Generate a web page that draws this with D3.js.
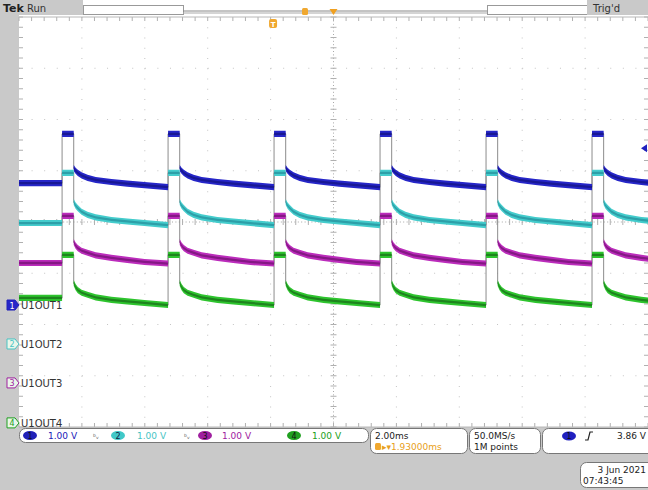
<!DOCTYPE html>
<html>
<head>
<meta charset="utf-8" />
<script src="https://d3js.org/d3.v7.min.js"></script>
<style>
  body { margin: 0; background: #fff; }
  text { font-family: "DejaVu Sans", sans-serif; }
</style>
</head>
<body>
<svg width="648" height="490"></svg>
<script>
// time in ms (2 ms/div), vertical in divisions (1 V/div)
const pulseStarts = [-8.63, -5.26, -1.89, 1.48, 4.85, 8.22];
const pulseWidth = 0.37;
const decayOffsets = [0, 0.06, 0.13, 0.25, 0.44, 0.7, 1.2, 1.7, 2.25, 3.0];

const channelNames = ["U1OUT1", "U1OUT2", "U1OUT3", "U1OUT4"];
const startLevels = [0.76, -0.02, -0.80, -1.48];
const plateauLevels = [1.72, 0.96, 0.12, -0.64];
const decayCh1 = [1.05, 1.00, 0.96, 0.91, 0.86, 0.82, 0.78, 0.75, 0.72, 0.68];
const decayCh2 = [0.39, 0.32, 0.27, 0.20, 0.14, 0.09, 0.04, 0.01, -0.02, -0.06];
const decayCh3 = [-0.39, -0.46, -0.51, -0.56, -0.60, -0.65, -0.70, -0.74, -0.78, -0.81];
const decayCh4 = [-1.19, -1.27, -1.33, -1.38, -1.42, -1.47, -1.52, -1.55, -1.58, -1.62];
const markerLevels = [-1.62, -2.38, -3.14, -3.92];
const scaleLabels = ["1.00 V", "1.00 V", "1.00 V", "1.00 V"];
const triggerTime = -1.89;
const triggerLevel = 1.44;

const outerColors = ["#2626c8", "#44cccc", "#bb2cbb", "#2ec42e"];
const innerColors = ["#12127e", "#248c98", "#6c106c", "#186818"];
const labelColors = ["#2020b8", "#48c4c4", "#a020a0", "#20a020"];

const svg = d3.select("svg");
const gLeft = 19, gRight = 648, gTop = 17, gBottom = 427;
const x = d3.scaleLinear().domain([-10, 10]).range([gLeft, gRight]);
const y = d3.scaleLinear().domain([-4, 4]).range([gBottom, gTop]);
const pxDivX = (gRight - gLeft) / 10, pxDivY = (gBottom - gTop) / 8;

// backgrounds
svg.append("rect").attr("width", 648).attr("height", 490).attr("fill", "#fff");
svg.append("rect").attr("x", 0).attr("y", 0).attr("width", gLeft).attr("height", 490).attr("fill", "#c9c9c9");
svg.append("rect").attr("x", 0).attr("y", gBottom).attr("width", 648).attr("height", 490 - gBottom).attr("fill", "#c9c9c9");

// graticule
const grid = svg.append("g");
d3.range(-8, 10, 2).forEach(t => {
  grid.append("line").attr("x1", x(t)).attr("x2", x(t)).attr("y1", gTop).attr("y2", gBottom)
    .attr("stroke", t === 0 ? "#a8a8a8" : "#c4c4c4")
    .attr("stroke-dasharray", t === 0 ? "1,2.4" : `1,${pxDivY / 5 - 1}`);
});
d3.range(-3, 4, 1).forEach(v => {
  grid.append("line").attr("x1", gLeft).attr("x2", gRight).attr("y1", y(v)).attr("y2", y(v))
    .attr("stroke", v === 0 ? "#a8a8a8" : "#c4c4c4")
    .attr("stroke-dasharray", v === 0 ? "1,2.4" : `1,${pxDivX / 5 - 1}`);
});
// minor ticks on centre lines and edges
d3.range(-10, 10.01, 0.4).forEach(t => {
  const xx = x(t);
  grid.append("line").attr("x1", xx).attr("x2", xx).attr("y1", y(0) - 3).attr("y2", y(0) + 3).attr("stroke", "#b0b0b0");
  grid.append("line").attr("x1", xx).attr("x2", xx).attr("y1", gTop).attr("y2", gTop + 4).attr("stroke", "#b0b0b0");
  grid.append("line").attr("x1", xx).attr("x2", xx).attr("y1", gBottom - 4).attr("y2", gBottom).attr("stroke", "#b0b0b0");
});
d3.range(-4, 4.01, 0.2).forEach(v => {
  const yy = y(v);
  grid.append("line").attr("x1", x(0) - 3).attr("x2", x(0) + 3).attr("y1", yy).attr("y2", yy).attr("stroke", "#b0b0b0");
  grid.append("line").attr("x1", gLeft).attr("x2", gLeft + 4).attr("y1", yy).attr("y2", yy).attr("stroke", "#b0b0b0");
  grid.append("line").attr("x1", gRight - 4).attr("x2", gRight).attr("y1", yy).attr("y2", yy).attr("stroke", "#b0b0b0");
});
grid.append("line").attr("x1", gLeft).attr("x2", gRight).attr("y1", gTop).attr("y2", gTop).attr("stroke", "#b8b8b8");
grid.append("line").attr("x1", gLeft).attr("x2", gRight).attr("y1", gBottom).attr("y2", gBottom).attr("stroke", "#b8b8b8");

// waveforms
const decays = [decayCh1, decayCh2, decayCh3, decayCh4];
function waveform(i) {
  const pts = [[-10, startLevels[i]]];
  let prev = startLevels[i];
  pulseStarts.forEach(p => {
    pts.push([p, prev], [p, plateauLevels[i]], [p + pulseWidth, plateauLevels[i]]);
    decayOffsets.forEach((o, k) => pts.push([p + pulseWidth + o, decays[i][k]]));
    prev = decays[i][decays[i].length - 1];
  });
  return pts;
}

svg.append("clipPath").attr("id", "plot")
  .append("rect").attr("x", gLeft).attr("y", gTop).attr("width", gRight - gLeft).attr("height", gBottom - gTop);
const traces = svg.append("g").attr("clip-path", "url(#plot)");

const waves = channelNames.map((c, i) => waveform(i));
const line = d3.line().x(d => x(d[0])).y(d => y(d[1]));
// edges (thin grey where all channels overlap)
waves.forEach(w => {
  traces.append("path").attr("d", line(w)).attr("fill", "none").attr("stroke", "#8c8c8c").attr("stroke-width", 1);
});
const band = (h) => d3.area().x(d => x(d[0])).y0(d => y(d[1] - h)).y1(d => y(d[1] + h));
waves.forEach((w, i) => {
  traces.append("path").attr("d", band(0.06)(w)).attr("fill", outerColors[i]);
  traces.append("path").attr("d", band(0.022)(w)).attr("fill", innerColors[i]).attr("opacity", 0.7);
});

// trigger level marker at right edge
const ty = y(triggerLevel);
svg.append("path")
  .attr("d", `M${gRight - 1},${ty - 4} L${gRight - 7},${ty} L${gRight - 1},${ty + 4} Z`)
  .attr("fill", "#2020c0");

// channel ground markers and labels
channelNames.forEach((name, i) => {
  const yy = y(markerLevels[i]);
  svg.append("path")
    .attr("d", `M7,${yy - 5} L15,${yy - 5} L19,${yy} L15,${yy + 5} L7,${yy + 5} Z`)
    .attr("fill", i === 0 ? outerColors[0] : "#eaf6ea").attr("stroke", labelColors[i]).attr("stroke-width", 1);
  svg.append("text").attr("x", 12).attr("y", yy + 3.5).attr("text-anchor", "middle")
    .attr("font-size", 8).attr("fill", i === 0 ? "#fff" : labelColors[i]).text(i + 1);
  svg.append("text").attr("x", 21).attr("y", yy + 4).attr("font-size", 10).attr("fill", "#333").text(name);
});

// header
svg.append("rect").attr("x", 0).attr("y", 0).attr("width", 83).attr("height", 15).attr("fill", "#c9c9c9");
svg.append("text").attr("x", 3).attr("y", 12).attr("font-size", 11).attr("font-weight", "bold")
  .attr("font-family", "DejaVu Serif").attr("fill", "#222").text("Tek");
svg.append("text").attr("x", 27).attr("y", 12).attr("font-size", 10).attr("fill", "#333").text("Run");
svg.append("rect").attr("x", 83.5).attr("y", 5.5).attr("width", 100).attr("height", 9).attr("fill", "#fff").attr("stroke", "#999");
svg.append("line").attr("x1", 183).attr("x2", 487).attr("y1", 11).attr("y2", 11).attr("stroke", "#888");
svg.append("line").attr("x1", 183).attr("x2", 487).attr("y1", 13).attr("y2", 13).attr("stroke", "#aaa");
svg.append("rect").attr("x", 487.5).attr("y", 5.5).attr("width", 100).attr("height", 9).attr("fill", "#fff").attr("stroke", "#999");
svg.append("rect").attr("x", 587).attr("y", 0).attr("width", 61).attr("height", 15).attr("fill", "#c9c9c9");
svg.append("text").attr("x", 593).attr("y", 12).attr("font-size", 10).attr("fill", "#333").text("Trig'd");
svg.append("rect").attr("x", 302).attr("y", 8).attr("width", 6).attr("height", 7).attr("rx", 1.5).attr("fill", "#f0a830");
svg.append("path").attr("d", `M${x(0) - 4},9 L${x(0) + 4},9 L${x(0)},15 Z`).attr("fill", "#f0a020");
// trigger position marker
const tx = x(triggerTime) - 1;
svg.append("rect").attr("x", tx - 4).attr("y", 19).attr("width", 8).attr("height", 9).attr("rx", 2).attr("fill", "#f0a830");
svg.append("text").attr("x", tx).attr("y", 26.5).attr("text-anchor", "middle").attr("font-size", 7).attr("font-weight", "bold").attr("fill", "#fff").text("T");

// bottom readouts
const panel = (x0, y0, w, h) => svg.append("rect").attr("x", x0 + 0.5).attr("y", y0 + 0.5).attr("width", w).attr("height", h)
  .attr("rx", 6).attr("fill", "#fff").attr("stroke", "#777");
panel(19, 428, 349, 14);
const pillX = [30, 118, 205, 294];
const labelX = [48, 137, 222, 312];
channelNames.forEach((n, i) => {
  svg.append("ellipse").attr("cx", pillX[i]).attr("cy", 435.5).attr("rx", 7).attr("ry", 4.5).attr("fill", i === 1 ? "#40c8c8" : labelColors[i]);
  svg.append("text").attr("x", pillX[i]).attr("y", 438.5).attr("text-anchor", "middle").attr("font-size", 8)
    .attr("fill", i === 1 ? "#124" : "#111").text(i + 1);
  svg.append("text").attr("x", labelX[i]).attr("y", 439).attr("font-size", 9).attr("fill", labelColors[i]).text(scaleLabels[i]);
});
[93, 184].forEach(xx => svg.append("text").attr("x", xx).attr("y", 439).attr("font-size", 7).attr("fill", "#555").text("ᵇᵥ"));

panel(370, 428, 97, 25);
svg.append("text").attr("x", 375).attr("y", 439).attr("font-size", 9).attr("fill", "#222").text("2.00ms");
svg.append("rect").attr("x", 375).attr("y", 443).attr("width", 6).attr("height", 7).attr("rx", 1.5).attr("fill", "#f0a830");
svg.append("text").attr("x", 382).attr("y", 450).attr("font-size", 9).attr("fill", "#e8a020").text("▸▾1.93000ms");

panel(469, 428, 71, 25);
svg.append("text").attr("x", 474).attr("y", 439).attr("font-size", 9).attr("fill", "#222").text("50.0MS/s");
svg.append("text").attr("x", 474).attr("y", 450).attr("font-size", 9).attr("fill", "#222").text("1M points");

panel(542, 428, 112, 25);
svg.append("ellipse").attr("cx", 569).attr("cy", 436).attr("rx", 7).attr("ry", 4.5).attr("fill", "#2020c0");
svg.append("text").attr("x", 569).attr("y", 439).attr("text-anchor", "middle").attr("font-size", 8).attr("fill", "#111").text("1");
svg.append("path").attr("d", "M585,440 L588,440 L590,432 L593,432").attr("fill", "none").attr("stroke", "#222").attr("stroke-width", 1.2);
svg.append("text").attr("x", 646).attr("y", 439).attr("text-anchor", "end").attr("font-size", 9).attr("fill", "#222").text("3.86 V");

panel(580, 462, 74, 25);
svg.append("text").attr("x", 646).attr("y", 473).attr("text-anchor", "end").attr("font-size", 9).attr("fill", "#222").text("3 Jun 2021");
svg.append("text").attr("x", 583).attr("y", 484).attr("font-size", 9).attr("fill", "#222").text("07:43:45");
</script>
</body>
</html>
